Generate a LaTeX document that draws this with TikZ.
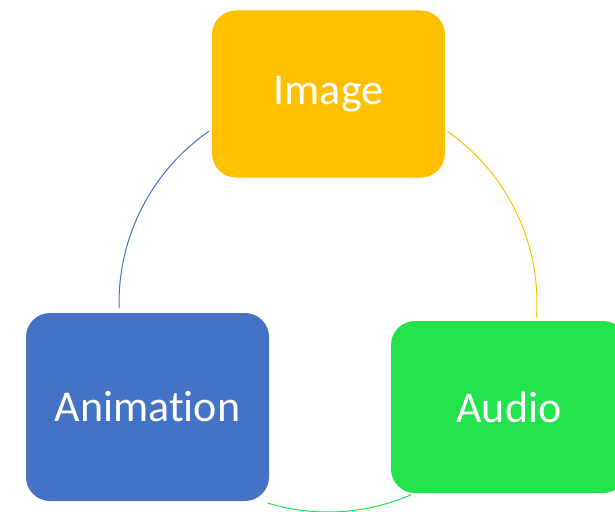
\documentclass[tikz,border=0pt]{standalone}
\usepackage{fontspec}
\setmainfont{Carlito}[Ligatures=NoCommon]
\definecolor{cimg}{HTML}{FFC000}
\definecolor{cani}{HTML}{4472C4}
\definecolor{caud}{HTML}{22E34C}
\begin{document}
\begin{tikzpicture}[x=1pt,y=-1pt,
  box/.style={rounded corners=24pt, inner sep=0pt, text=white, font=\fontsize{44}{50}\selectfont, anchor=center},
  link/.style={line width=1pt}]
\useasboundingbox (0,0) rectangle (615,511);
\clip (0,0) rectangle (615,511);
\node[box, fill=cimg, minimum width=233pt, minimum height=167pt] (img) at (328.5,94) {Image};
\node[box, fill=cani, minimum width=243pt, minimum height=188pt] (ani) at (147.5,407) {Animation};
\node[box, fill=caud, minimum width=236pt, minimum height=172pt] (aud) at (509,407) {Audio};
\coordinate (c) at (328,303);
% blue arc: Animation -> Image
\draw[link, cani] (c) ++(181.4:209pt) arc[start angle=181.4, end angle=124.7, radius=209pt];
% orange arc: Image -> Audio
\draw[link, cimg] (c) ++(55.1:209pt) arc[start angle=55.1, end angle=-3.8, radius=209pt];
% green arc: Audio -> Animation
\draw[link, caud] (c) ++(-66.5:209pt) arc[start angle=-66.5, end angle=-106.8, radius=209pt];
\end{tikzpicture}
\end{document}
